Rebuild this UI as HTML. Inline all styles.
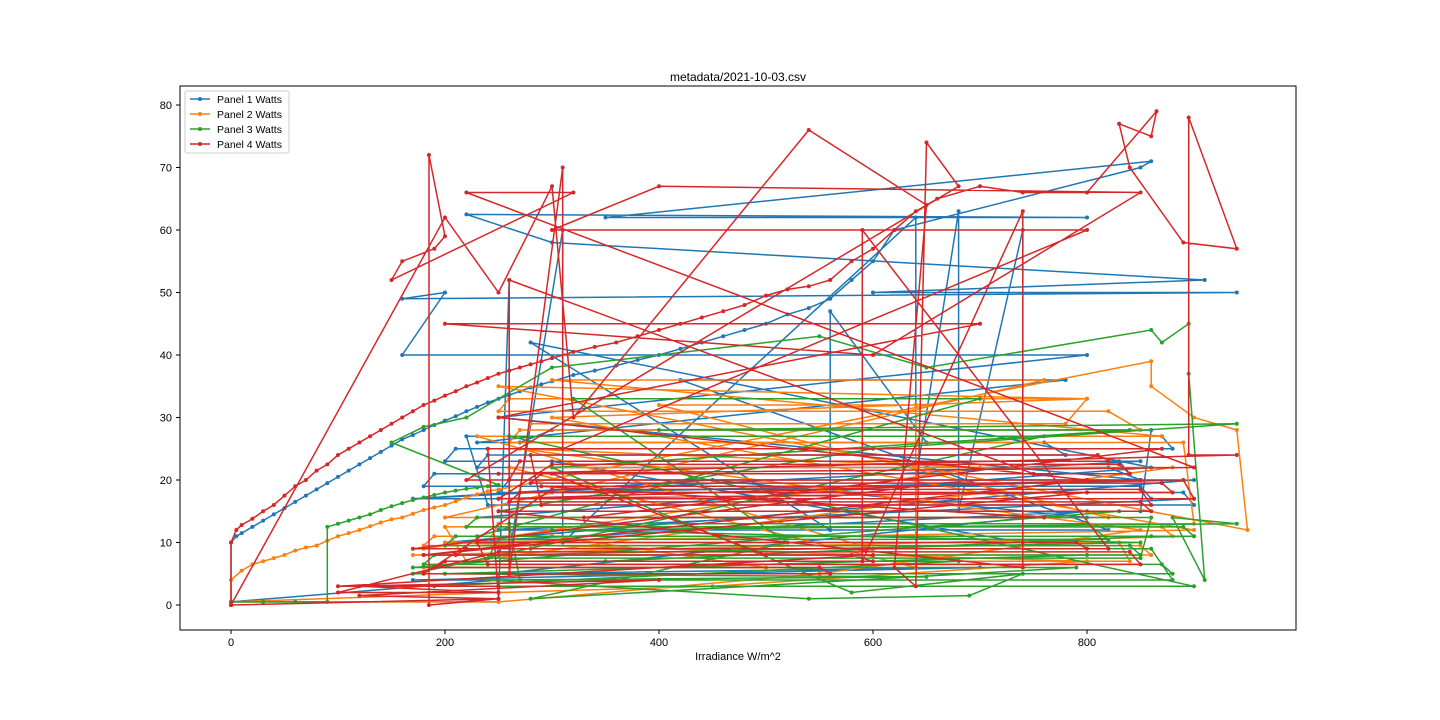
<!DOCTYPE html>
<html><head><meta charset="utf-8"><style>
html,body{margin:0;padding:0;background:#fff;}
svg{display:block;font-family:"Liberation Sans","DejaVu Sans",sans-serif;}
</style></head><body>
<svg id="chart" width="1440" height="720" viewBox="0 0 1440 720">
<rect x="0" y="0" width="1440" height="720" fill="#fff"/>
<text x="738" y="81" text-anchor="middle" font-size="12">metadata/2021-10-03.csv</text>
<text x="738" y="660" text-anchor="middle" font-size="11">Irradiance W/m^2</text>
<g id="plot"></g>
<rect x="180" y="86" width="1116" height="544" fill="none" stroke="#000" stroke-width="1"/>
<g id="ticks"></g>
<g id="legend"></g>
</svg>
<script>
const xTicks = [0, 200, 400, 600, 800];
const yTicks = [0, 10, 20, 30, 40, 50, 60, 70, 80];
const seriesNames = ["Panel 1 Watts", "Panel 2 Watts", "Panel 3 Watts", "Panel 4 Watts"];
const seriesColors = ["#1f77b4", "#ff7f0e", "#2ca02c", "#d62728"];

const p1x = [0,0,5,10,20,30,40,50,60,70,80,90,100,110,120,130,140,150,160,170,180,190,200,210,220,230,240,250,260,270,280,290,300,320,340,360,380,400,420,440,460,480,500,520,540,560,580,600,620,
850,860,350,800,220,300,910,600,940,160,200,160,800,250,850,300,900,200,800,250,700,170,250,0,250,260,260,310,310,640,640,680,680,740,740,300,850,170,900,250,820,420,780,230,650,560,560,280,860,230,800,450,
170,860,850,180,190,840,830,200,210,880,870,220,240,900,890,250,260,850,820,230,240,780,760,270,300,860,850,310];
const p1y = [0,10,11,11.5,12.5,13.5,14.5,15.5,16.5,17.5,18.5,19.5,20.5,21.5,22.5,23.5,24.5,25.5,26.5,27.2,28,28.8,29.5,30.2,31,31.7,32.4,33,33.6,34.2,34.8,35.3,35.8,36.8,37.5,38.3,39.2,40,41,42,43,44,45,46.5,47.5,49,52,55,60,
70,71,62,62,62.5,58,52,50,50,49,50,40,40,30,20,18,20,10,15,5,6,4,4,0.5,0.5,52,8,60,10,62,20,63,15,60,10,23,23,17,17,12,12,36,36,26,26,47,12,42,22,14,14,20,
17,17,19,19,21,21,23,23,25,25,27,27,16,16,18,18,20,20,22,22,24,24,26,26,28,28,15,15];

const p2x = [0,0,10,20,30,40,50,60,70,80,90,100,110,120,130,140,150,160,170,180,190,200,210,220,230,240,250,
860,860,900,940,950,250,800,300,900,200,800,450,250,0,250,550,850,270,700,180,600,230,870,300,760,200,820,400,640,640,260,880,180,500,300,900,
170,860,850,180,190,880,870,200,220,840,830,240,250,900,890,260,270,850,820,250,260,800,780,280];
const p2y = [0,4,5.5,6.5,7,7.5,8,8.7,9.2,9.5,10.3,11,11.5,12,12.6,13.2,13.7,14,14.6,15.2,15.6,16,16.6,17.2,17.7,18.2,18.5,
39,35,30,28,12,35,33,30,12,10,7,3,2,0.5,0.5,5,12,25,22,9,9,27,27,36,36,14,14,32,32,6,22,22,6,6,11,11,
8,8,9.5,9.5,11,11,12.5,12.5,7,7,10,10,13,13,26,26,28,28,31,31,33,33,29,29];

const p3x = [0,0,30,60,90,90,100,110,120,130,140,150,160,170,180,190,200,210,220,230,240,250,150,180,220,300,550,650,860,870,895,895,910,880,940,300,850,250,800,200,650,240,540,690,740,580,300,840,400,940,600,250,830,170,790,280,520,320,700,230,860,350,680,190,900,260,760,
170,880,870,180,190,850,840,200,210,900,890,220,230,860,850,240,250,820,800,260,270,880,860,280];
const p3y = [0,0.5,0.5,0.5,0.5,12.5,13,13.5,14,14.5,15.2,15.8,16.3,16.8,17.2,17.6,18,18.3,18.6,18.8,19,19.2,26,28.5,30,38,43,38,44,42,45,37,4,14,13,12,10,8,8,5,4.5,4,1,1.5,5,2,22,28,28,29,25,15,15,6,6,1,10,33,33,11,11,7,7,3,3,27,27,
5,5,6.5,6.5,8,8,9.5,9.5,11,11,12.5,12.5,14,14,7.5,7.5,10.5,10.5,13,13,4,4,9,9];

const p4x = [0,0,5,10,20,30,40,50,60,70,80,90,100,110,120,130,140,150,160,170,180,190,200,210,220,230,240,250,260,270,280,290,300,320,340,360,380,400,420,440,460,480,500,520,540,560,580,600,620,640,660,700,740,800,
865,860,830,840,890,940,895,895,940,250,900,220,320,150,160,190,200,185,185,250,0,200,250,300,320,540,650,620,640,650,680,220,850,250,800,180,500,300,750,260,260,310,310,800,300,400,850,600,200,700,250,800,180,600,100,400,120,250,240,870,330,760,290,640,170,820,590,590,740,740,
250,860,850,260,270,880,870,280,290,840,830,300,250,900,890,260,270,820,810,280,290,860,850,300,180,560,550,190,200,600,580,210,220,800,790,230,240,850,840,250,100,250,120,250];
const p4y = [0,10,12,12.8,13.8,15,16,17.5,19,20,21.5,22.5,24,25,26,27,28,29,30,31,32,32.7,33.5,34.2,35,35.6,36.3,37,37.5,38,38.5,39,39.5,40.5,41.3,42,43,44,45,46,47,48,49.5,50.5,51,52,55,57,60,63,65,67,66,66,
79,75,77,70,58,57,78,24,24,21,22,66,66,52,55,57,59,72,0,1,0,62,50,67,30,76,64,6,3,74,67,20,20,17,18,8,8,21,21,52,5,70,25,60,60,67,66,40,45,45,30,20,8,8,3,4,1.5,1,25,25,14,14,19,19,9,9,60,7,63,6,
15,15,16.5,16.5,18,18,19.5,19.5,21,21,22.5,22.5,17,17,20,20,23,23,24,24,16,16,18.5,18.5,5,5,6,6,7,7,8,8,9,9,10,10,6.5,6.5,8.5,8.5,2,2,3,3];

const X0 = 231, XS = (445 - 231) / 200;
const Y0 = 605, YS = (605 - 105) / 80;
function xPos(v){ return X0 + v * XS; }
function yPos(v){ return Y0 - v * YS; }

const NS = "http://www.w3.org/2000/svg";
const plot = document.getElementById("plot");
const clip = document.createElementNS(NS, "clipPath");
clip.setAttribute("id", "pc");
const cr = document.createElementNS(NS, "rect");
cr.setAttribute("x", 180); cr.setAttribute("y", 86); cr.setAttribute("width", 1116); cr.setAttribute("height", 544);
clip.appendChild(cr); plot.appendChild(clip);
plot.setAttribute("clip-path", "url(#pc)");

const allX = [p1x, p2x, p3x, p4x];
const allY = [p1y, p2y, p3y, p4y];
allX.forEach(function(xs, s){
  const ys = allY[s];
  const g = document.createElementNS(NS, "g");
  
  
  const pts = xs.map(function(x, i){ return xPos(x).toFixed(1) + "," + yPos(ys[i]).toFixed(1); }).join(" ");
  const pl = document.createElementNS(NS, "polyline");
  pl.setAttribute("points", pts);
  pl.setAttribute("fill", "none");
  pl.setAttribute("stroke", seriesColors[s]);
  pl.setAttribute("stroke-width", "1.5");
  
  
  g.appendChild(pl);
  xs.forEach(function(x, i){
    const c = document.createElementNS(NS, "circle");
    c.setAttribute("cx", xPos(x)); c.setAttribute("cy", yPos(ys[i])); c.setAttribute("r", 2);
    c.setAttribute("fill", seriesColors[s]);
    
    
    g.appendChild(c);
  });
  plot.appendChild(g);
});

const ticks = document.getElementById("ticks");
xTicks.forEach(function(t){
  const l = document.createElementNS(NS, "line");
  l.setAttribute("x1", xPos(t)); l.setAttribute("x2", xPos(t)); l.setAttribute("y1", 630); l.setAttribute("y2", 634);
  l.setAttribute("stroke", "#000");
  
  
  ticks.appendChild(l);
  const tx = document.createElementNS(NS, "text");
  tx.setAttribute("x", xPos(t)); tx.setAttribute("y", 646); tx.setAttribute("text-anchor", "middle"); tx.setAttribute("font-size", "11");
  tx.textContent = t;
  
  
  ticks.appendChild(tx);
});
yTicks.forEach(function(t){
  const l = document.createElementNS(NS, "line");
  l.setAttribute("x1", 176); l.setAttribute("x2", 180); l.setAttribute("y1", yPos(t)); l.setAttribute("y2", yPos(t));
  l.setAttribute("stroke", "#000");
  
  
  ticks.appendChild(l);
  const tx = document.createElementNS(NS, "text");
  tx.setAttribute("x", 172); tx.setAttribute("y", yPos(t) + 4); tx.setAttribute("text-anchor", "end"); tx.setAttribute("font-size", "11");
  tx.textContent = t;
  
  
  ticks.appendChild(tx);
});

const legend = document.getElementById("legend");
const box = document.createElementNS(NS, "rect");
box.setAttribute("x", 185); box.setAttribute("y", 91); box.setAttribute("width", 104); box.setAttribute("height", 62);
box.setAttribute("rx", 2); box.setAttribute("fill", "#fff"); box.setAttribute("fill-opacity", "0.8"); box.setAttribute("stroke", "#ccc");


legend.appendChild(box);
seriesNames.forEach(function(n, i){
  const y = 99 + i * 15;
  const g = document.createElementNS(NS, "g");
  
  
  const l = document.createElementNS(NS, "line");
  l.setAttribute("x1", 190); l.setAttribute("x2", 210); l.setAttribute("y1", y); l.setAttribute("y2", y);
  l.setAttribute("stroke", seriesColors[i]); l.setAttribute("stroke-width", "1.5");
  g.appendChild(l);
  const c = document.createElementNS(NS, "circle");
  c.setAttribute("cx", 200); c.setAttribute("cy", y); c.setAttribute("r", 2); c.setAttribute("fill", seriesColors[i]);
  g.appendChild(c);
  const t = document.createElementNS(NS, "text");
  t.setAttribute("x", 217); t.setAttribute("y", y + 4); t.setAttribute("font-size", "10.5");
  t.textContent = n;
  g.appendChild(t);
  legend.appendChild(g);
});
</script>
</body></html>
